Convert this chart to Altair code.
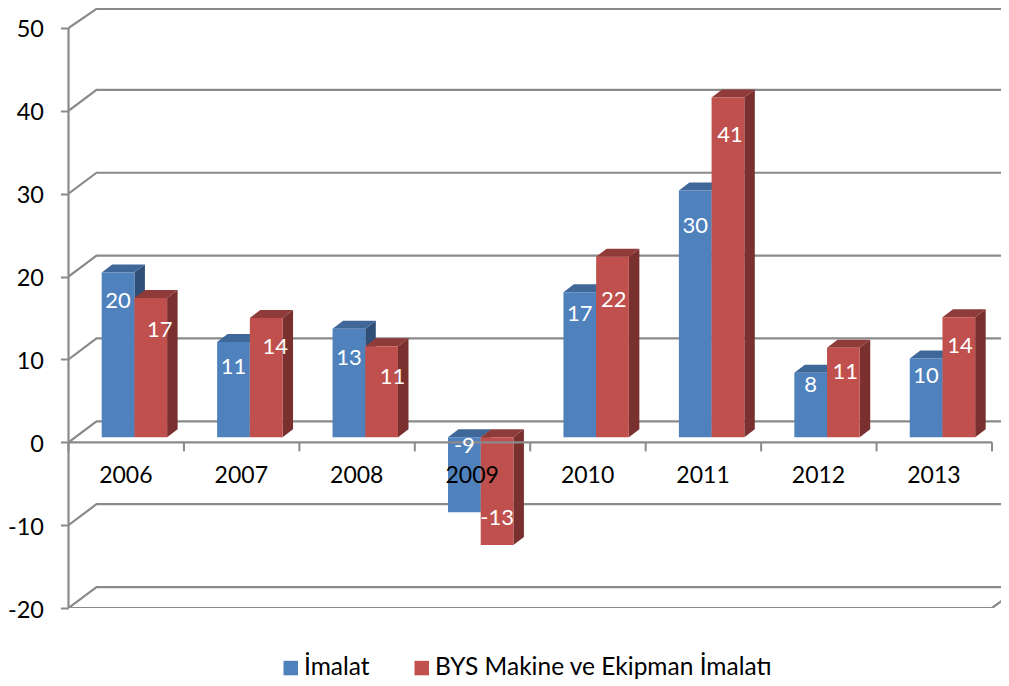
import altair as alt
import pandas as pd

years = ["2006", "2007", "2008", "2009", "2010", "2011", "2012", "2013"]
series_names = ["İmalat", "BYS Makine ve Ekipman İmalatı"]
imalat_values = [19.9, 11.5, 13.1, -9.05, 17.5, 29.8, 7.8, 9.5]
bys_values = [16.8, 14.4, 11.0, -13.0, 21.8, 41.0, 10.8, 14.5]
imalat_labels = ["20", "11", "13", "-9", "17", "30", "8", "10"]
bys_labels = ["17", "14", "11", "-13", "22", "41", "11", "14"]
imalat_label_at = [17.05, 9.09, 10.17, -0.45, 15.5, 26.1, 6.9, 8.0]
bys_label_at = [13.55, 11.5, 7.9, -9.14, 17.2, 37.1, 8.5, 11.6]
imalat_label_shift = [0, 0, 0, 0, 0, 0, 0, 0]
bys_label_shift = [0.078, 0.078, 0.095, 0, 0.01, 0.017, 0.017, 0.01]
levels = [-20, -10, 0, 10, 20, 30, 40, 50]

FONT = "Lato"
GRID = "#8a8a8a"
FRONT = ["#4F81BD", "#C0504D"]
TOP = ["#3F6797", "#8E3B39"]
SIDE = ["#2F4F78", "#7A302E"]

PLOT_W, PLOT_H = 932.5, 600
X_MAX = 8.078
Y_MIN, Y_MAX = -20, 52.41
WALL_DX, WALL_DY = 0.2426, 2.53
BAR_LEFT, BAR_W = 0.2876, 0.2833
BAR_DX, BAR_DY = 0.091, 0.965
BASE = 0.6

xs = alt.Scale(domain=[0, X_MAX], range=[0, PLOT_W], nice=False, zero=False, padding=0)
ys = alt.Scale(domain=[Y_MIN, Y_MAX], range=[PLOT_H, 0], nice=False, zero=False, padding=0)

y_axis = alt.Axis(
    values=levels, title=None, grid=False, domain=False, ticks=True, tickSize=8,
    tickColor=GRID, tickWidth=2, labelFontSize=23.5, labelFont=FONT,
    labelColor="#000000", labelPadding=17, labelOffset=2,
    labelExpr="toString(datum.value)",
)


def X(f="x"):
    return alt.X(f"{f}:Q", scale=xs, axis=None)


def Y(f="y"):
    return alt.Y(f"{f}:Q", scale=ys, axis=y_axis)


grid_rows = []
for lv in levels:
    back = min(lv + WALL_DY, 52.3)
    grid_rows += [
        {"lv": lv, "o": 0, "x": 0, "y": lv},
        {"lv": lv, "o": 1, "x": WALL_DX, "y": back},
        {"lv": lv, "o": 2, "x": X_MAX, "y": back},
    ]
floor_rows = [
    {"x": 0, "y": -20},
    {"x": 8, "y": -20},
    {"x": 8 + WALL_DX, "y": -20 + WALL_DY},
]
grid = pd.DataFrame(grid_rows)
layers = [
    alt.Chart(grid).mark_line(color=GRID, strokeWidth=2.2, clip=True).encode(
        x=X(), y=Y(), detail="lv:N", order="o:Q"
    ),
    alt.Chart(pd.DataFrame(floor_rows)).mark_line(color=GRID, strokeWidth=2.2, clip=True).encode(
        x=X(), y=Y()
    ),
]

front_rows, top_rows, side_rows, label_rows = [], [], [], []
for s, (name, vals, labs, at, shift) in enumerate([
    (series_names[0], imalat_values, imalat_labels, imalat_label_at, imalat_label_shift),
    (series_names[1], bys_values, bys_labels, bys_label_at, bys_label_shift),
]):
    for i, v in enumerate(vals):
        x0 = i + BAR_LEFT + s * BAR_W
        x1 = x0 + BAR_W
        hi, lo = max(BASE, BASE + v), min(BASE, BASE + v)
        key = f"{s}-{i}"
        front_rows.append({"s": s, "series": name, "x": x0, "x2": x1, "y": lo, "y2": hi})
        top_rows += [
            {"s": s, "k": key, "y": hi, "x": x0, "x2": x1},
            {"s": s, "k": key, "y": hi + BAR_DY, "x": x0 + BAR_DX, "x2": x1 + BAR_DX},
        ]
        side_rows += [
            {"s": s, "k": key, "x": x1, "y": lo, "y2": hi},
            {"s": s, "k": key, "x": x1 + BAR_DX, "y": lo + BAR_DY, "y2": hi + BAR_DY},
        ]
        label_rows.append({"x": (x0 + x1) / 2 + shift[i], "y": at[i], "t": labs[i]})

front = pd.DataFrame(front_rows)
top = pd.DataFrame(top_rows)
side = pd.DataFrame(side_rows)

legend = alt.Legend(
    title=None, orient="none", legendX=210, legendY=647.7, direction="horizontal",
    symbolType="square", symbolSize=210, symbolStrokeWidth=0, labelFont=FONT,
    labelFontSize=24.5, labelColor="#000000", columnPadding=39, labelOffset=1,
    symbolOffset=0, labelLimit=500,
)

for s in [0, 1]:
    layers += [
        alt.Chart(side[side.s == s]).mark_area(orient="vertical", color=SIDE[s]).encode(
            x=X(), y=Y(), y2="y2:Q", detail="k:N"
        ),
        alt.Chart(top[top.s == s]).mark_area(orient="horizontal", color=TOP[s]).encode(
            y=Y(), x=X(), x2="x2:Q", detail="k:N"
        ),
    ]
    layers.append(
        alt.Chart(front[front.s == s]).mark_rect().encode(
            x=X(), x2="x2:Q", y=Y(), y2="y2:Q",
            color=alt.Color(
                "series:N",
                scale=alt.Scale(domain=series_names, range=FRONT),
                legend=legend,
            ),
        )
    )

# axes drawn over the bars
layers.append(
    alt.Chart(pd.DataFrame({"x": [0], "y": [-20], "y2": [50]}))
    .mark_rule(color=GRID, strokeWidth=2.2)
    .encode(x=X(), y=Y(), y2="y2:Q")
)
layers.append(
    alt.Chart(pd.DataFrame({"x": [0], "x2": [8], "y": [0]}))
    .mark_rule(color=GRID, strokeWidth=2.2)
    .encode(x=X(), x2="x2:Q", y=Y())
)
layers.append(
    alt.Chart(pd.DataFrame({"x": list(range(9)), "y": [0] * 9, "y2": [-1.1] * 9}))
    .mark_rule(color=GRID, strokeWidth=2)
    .encode(x=X(), y=Y(), y2="y2:Q")
)
layers.append(
    alt.Chart(pd.DataFrame({"x": [i + 0.497 for i in range(8)], "y": [-4.07] * 8, "t": years}))
    .mark_text(font=FONT, fontSize=23, color="#000000", baseline="middle")
    .encode(x=X(), y=Y(), text="t:N")
)
layers.append(
    alt.Chart(pd.DataFrame(label_rows))
    .mark_text(font=FONT, fontSize=22, color="#FFFFFF", baseline="middle")
    .encode(x=X(), y=Y(), text="t:N")
)

chart = (
    alt.layer(*layers)
    .properties(
        width=PLOT_W,
        height=PLOT_H,
        autosize=alt.AutoSizeParams(type="none"),
        padding={"left": 60.5, "top": 0, "right": 0, "bottom": 74},
        background="#FFFFFF",
    )
    .configure_view(stroke=None)
)
chart.save("out.html", embed_options={"renderer": "svg", "actions": False})
